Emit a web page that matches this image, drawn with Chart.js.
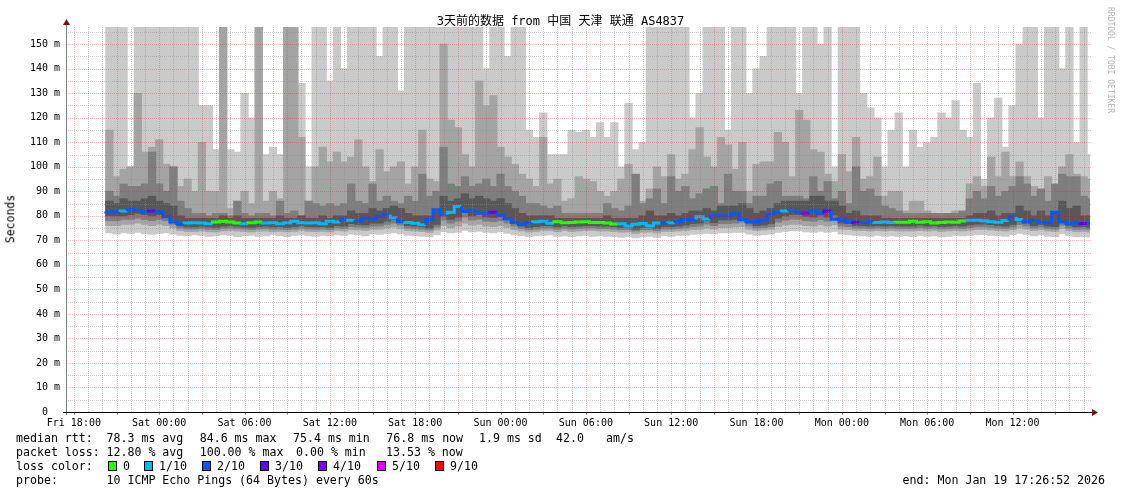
<!DOCTYPE html>
<html>
<head>
<meta charset="utf-8">
<title>3天前的数据 from 中国 天津 联通 AS4837</title>
<script src="https://cdn.jsdelivr.net/npm/chart.js@4.4.1/dist/chart.umd.min.js"></script>
<style>
  html, body { margin: 0; padding: 0; background: #fff; }
  #page { position: relative; width: 1121px; height: 494px; overflow: hidden;
          font-family: "DejaVu Sans Mono", monospace; color: #000; }
  #page canvas { position: absolute; left: 0; top: 0; }
  .t { position: absolute; white-space: pre; line-height: 14px; font-size: 11.6px; }
  .box { position: absolute; top: 461px; width: 7px; height: 8px; border: 1px solid #000; }
  #title { left: 0; top: 14px; width: 1121px; text-align: center; font-size: 12px;
           font-family: "DejaVu Sans Mono", "Noto Sans CJK SC", monospace; }
  #ylab { left: 11px; top: 219px; font-size: 11.5px; line-height: 1;
          transform: translate(-50%, -50%) rotate(-90deg); }
  #brand { left: 1110px; top: 60px; font-size: 8px; line-height: 1; color: #b4b4b4;
           transform: translate(-50%, -50%) rotate(90deg); }
</style>
</head>
<body>
<div id="page">
  <canvas id="smoke" width="1121" height="494"></canvas>
  <div class="t" id="title">3天前的数据 from 中国 天津 联通 AS4837</div>
  <div class="t" id="ylab">Seconds</div>
  <div class="t" id="brand">RRDTOOL / TOBI OETIKER</div>
  <div class="t" style="top:473px; right:16px">end: Mon Jan 19 17:26:52 2026</div>
</div>

<script>
// time axis in hours, Fri 00:00 = 0; graph ends Mon 17:26:52
const xMax = 72 + 17 + 26 / 60 + 52 / 3600;
const xMin = xMax - 72;
const firstBin = 20.25;   // first consolidated column
const binHours = 0.5;

const xLabelHours = [18, 24, 30, 36, 42, 48, 54, 60, 66, 72, 78, 84];
const xLabels = ['Fri 18:00', 'Sat 00:00', 'Sat 06:00', 'Sat 12:00', 'Sat 18:00', 'Sun 00:00',
                 'Sun 06:00', 'Sun 12:00', 'Sun 18:00', 'Mon 00:00', 'Mon 06:00', 'Mon 12:00'];
const yTicks = [0, 10, 20, 30, 40, 50, 60, 70, 80, 90, 100, 110, 120, 130, 140, 150];
const yTickLabels = ['0  ', '10 m', '20 m', '30 m', '40 m', '50 m', '60 m', '70 m', '80 m',
                     '90 m', '100 m', '110 m', '120 m', '130 m', '140 m', '150 m'];

const lossNames = ['0', '1/10', '2/10', '3/10', '4/10', '5/10', '9/10'];
const lossColors = ['#26ff00', '#00b8ff', '#0059ff', '#5e00ff', '#7e00ff', '#dd00ff', '#ff0000'];

// legend lines: [text, x] per item
const rttLegend = [['median rtt:', 16], ['78.3 ms avg', 106.5], ['84.6 ms max', 199.7], ['75.4 ms min', 293],
                   ['76.8 ms now', 386.3], ['1.9 ms sd', 479], ['42.0', 556], ['am/s', 606]];
const lossLegend = [['packet loss:', 16], ['12.80 % avg', 106.5], ['100.00 % max', 199.7],
                    ['0.00 % min', 296], ['13.53 % now', 386]];
const probeLegend = [['probe:', 16], ['10 ICMP Echo Pings (64 Bytes) every 60s', 106.5]];

// smoke, ms (one value per column)
const pingMax = [
  157,157,157,100,157,157,157,157,157,157, 157,157,157,125,125,107,157,107,106,130,
  120,157,105,108,105,157,157,134,100,157, 157,135,157,140,157,157,157,157,145,157,
  157,131,157,157,157,157,157,157,157,157, 157,157,157,140,157,157,145,157,157,115,
  112,122,105,105,105,115,114,115,112,118, 112,118,100,126,107,110,157,157,157,157,
  157,157,120,130,157,157,157,115,157,157, 130,140,145,157,157,157,157,130,157,157,
  150,157,100,157,157,157,130,124,120,100, 115,122,100,115,108,110,112,122,120,127,
  115,112,134,95,120,128,108,125,150,157, 157,120,157,157,140,157,110,157,105];
const ping9 = [
  115,96,99,100,130,106,108,111,101,100, 92,95,90,110,90,90,157,83,86,90,
  85,157,86,90,87,157,157,112,86,100, 108,102,106,102,104,111,100,94,107,98,
  100,102,93,100,115,95,94,150,119,116, 105,100,135,125,129,108,104,101,97,95,
  92,112,93,95,86,87,96,95,94,90, 88,90,95,101,97,86,91,100,96,105,
  95,97,107,116,104,100,112,109,99,110, 90,101,102,102,114,110,96,123,119,107,
  106,97,94,105,98,112,95,96,104,88, 90,90,82,86,86,82,81,81,81,82,
  81,93,96,92,104,96,106,96,102,96, 92,88,96,92,100,105,97,96,95];
const ping8 = [
  90,88,93,92,92,93,106,93,90,100, 86,83,81,81,80,81,81,80,86,81,
  80,81,81,80,86,81,82,80,86,85, 84,85,84,85,93,86,85,93,86,88,
  86,85,88,86,97,88,90,108,93,92, 96,92,93,95,92,97,92,90,88,85,
  85,84,83,84,81,81,81,81,81,81, 85,83,82,84,97,85,87,91,85,96,
  90,92,87,89,91,92,85,97,90,90, 85,88,88,93,94,88,88,88,87,96,
  90,94,87,90,85,100,90,91,88,84, 83,82,81,81,81,81,81,81,81,81,
  82,87,90,87,92,88,90,92,96,93, 88,91,86,93,97,96,96,88,87];
const ping7 = [
  86,85,87,86,86,87,88,86,85,84, 80,79,79,79,79,79,80,79,80,79,
  79,79,79,79,80,79,79,80,79,79, 80,79,80,80,82,81,81,83,82,83,
  84,83,81,80,80,80,82,88,86,87, 89,87,88,87,86,87,85,83,81,80,
  80,80,80,79,79,79,79,79,79,79, 80,79,79,79,79,80,82,80,80,81,
  80,81,82,82,83,82,84,84,84,85, 83,81,82,83,85,86,86,86,86,88,
  88,86,86,84,81,82,80,80,80,79, 79,79,79,79,79,79,79,79,79,79,
  79,80,81,81,82,80,81,81,84,82, 80,82,80,81,86,83,84,80,80];
const medianRtt = [
  81.8,81.6,81.6,82.0,82.5,82.2,81.6,82.0,81.6,79.6, 77.5,76.8,77.1,77.2,77.1,76.8,77.5,77.8,77.5,77.1,
  76.8,77.2,77.5,77.1,77.2,76.8,77.2,77.8,77.2,77.1, 77.2,76.8,77.8,77.5,78.8,78.2,78.0,79.0,78.8,79.8,
  80.5,79.2,77.6,77.3,77.0,76.4,78.6,82.5,80.4,81.5, 83.8,81.8,82.2,81.2,81.0,81.5,80.2,78.8,77.3,76.6,
  77.2,77.6,77.8,77.0,77.6,77.2,77.3,77.5,77.6,77.3, 77.3,77.1,76.7,76.8,75.8,76.6,76.9,76.0,77.1,77.1,
  77.2,77.7,78.4,78.5,79.6,78.7,80.0,79.9,80.0,80.8, 78.5,77.6,77.7,78.3,80.6,81.6,82.0,82.2,81.4,81.2,
  82.0,81.0,82.0,78.6,78.4,77.6,77.4,77.3,77.6,77.3, 77.5,77.3,77.4,77.4,77.8,77.4,77.6,77.1,77.3,77.5,
  77.4,77.9,78.2,78.2,78.0,77.6,77.4,78.1,79.6,78.5, 77.5,78.1,77.4,77.2,81.5,77.5,77.0,77.2,76.9];
const ping4 = [
  80,80,80,80.5,81,80.5,80,80.5,80,78, 76,75.5,75.5,75.8,75.5,75.3,75.8,76,75.8,75.5,
  75.3,75.6,75.8,75.5,75.6,75.3,75.6,76,75.6,75.5, 75.6,75.3,76,75.8,76.8,76.5,76.3,77,77,77.8,
  78.5,77.5,76,75.8,75.5,75,76.5,80,78.5,79.5, 81.5,80,80.5,79.5,79.3,79.8,78.5,77,75.8,75.2,
  75.6,76,76,75.5,76,75.6,75.8,76,76,75.8, 75.8,75.6,75.2,75.3,74.5,75.2,75.4,74.8,75.6,75.6,
  75.8,76.2,76.8,77,78,77.2,78.3,78.3,78.5,79, 77,76,76.2,76.8,79,80,80.5,80.5,79.8,79.5,
  80.3,79.5,80.3,77,76.8,76,76,75.8,76,75.8, 76,75.8,75.8,75.8,76.2,75.8,76,75.6,75.8,76,
  75.8,76.3,76.6,76.6,76.4,76,75.8,76.5,77.8,77, 76,76.5,75.8,75.6,77.5,76,75.5,75.6,75.3];
const ping3 = [
  78,78,78.5,78.5,79,78.5,78,78.5,78,76.5, 75,74.6,74.6,74.8,74.5,74.4,74.8,75,74.8,74.6,
  74.4,74.7,74.8,74.5,74.6,74.4,74.6,75,74.6,74.5, 74.6,74.4,75,74.8,75.6,75.4,75.2,75.8,75.8,76.5,
  77,76.2,75,74.8,74.5,74.2,75.4,78.2,77,77.8, 79.5,78.3,78.6,77.8,77.6,78,77,75.8,74.8,74.3,
  74.6,75,75,74.5,75,74.6,74.8,75,75,74.8, 74.8,74.6,74.3,74.4,73.8,74.3,74.4,74,74.6,74.6,
  74.8,75.1,75.6,75.8,76.6,76,76.8,76.8,77,77.4, 75.8,75,75.2,75.6,77.4,78.2,78.6,78.6,78,77.8,
  78.4,77.8,78.4,75.8,75.6,75,75,74.8,75,74.8, 75,74.8,74.8,74.8,75.1,74.8,75,74.6,74.8,75,
  74.8,75.2,75.5,75.5,75.3,75,74.8,75.4,76.4,75.8, 75,75.4,74.8,74.6,76.2,75,74.5,74.6,74.4];
const ping2 = [
  76,76,76.5,76.5,77,76.5,76,76.5,76,75, 74,73.6,73.6,73.8,73.5,73.4,73.8,74,73.8,73.6,
  73.4,73.7,73.8,73.5,73.6,73.4,73.6,74,73.6,73.5, 73.6,73.4,74,73.8,74.4,74.2,74,74.5,74.5,75,
  75.4,74.8,74,73.8,73.5,73.2,74.2,76,75.2,75.8, 77,76.2,76.5,75.8,75.6,76,75.2,74.4,73.8,73.3,
  73.6,74,74,73.5,74,73.6,73.8,74,74,73.8, 73.8,73.6,73.3,73.4,72.8,73.3,73.4,73,73.6,73.6,
  73.8,74,74.4,74.5,75,74.6,75.2,75.2,75.4,75.6, 74.5,74,74.2,74.5,75.6,76.2,76.5,76.5,76,75.8,
  76.3,75.8,76.3,74.5,74.4,74,74,73.8,74,73.8, 74,73.8,73.8,73.8,74,73.8,74,73.6,73.8,74,
  73.8,74.1,74.4,74.4,74.2,74,73.8,74.3,75,74.6, 74,74.3,73.8,73.6,74.8,74,73.5,73.6,73.4];
const pingMin = [
  73,72.5,73,72.8,73.2,72.6,72.4,72.8,73,72.5, 72,71.8,72.2,72,71.6,71.8,72.2,72,71.5,71.8,
  72,71.6,71.8,72.2,71.8,71.5,72,72.2,71.8,71.6, 72,71.8,72.2,72,72.5,72.2,71.8,72.6,72.4,72.8,
  73,72.6,72,71.8,71.6,71.5,72.2,73.5,73,73.2, 74,73.4,73.6,73.2,73,73.4,72.8,72.2,71.8,71.5,
  71.8,72,72.2,71.6,71.8,71.5,71.8,72,71.6,71.8, 71.6,71.5,71.2,71.5,71,71.4,71.6,71.2,71.8,71.6,
  72,72,72.4,72.5,72.8,72.6,73,73,73.2,73.2, 72.5,72,72.2,72.5,73.2,73.6,73.8,73.8,73.4,73.2,
  73.6,73.2,73.6,72.5,72.2,72,71.8,71.6,72,71.6, 71.8,71.6,71.8,71.5,72,71.6,71.8,71.4,71.6,72,
  71.8,72,72.2,72.3,72,71.8,71.6,72.2,72.8,72.4, 71.8,72.2,71.6,71.5,72.6,71.8,71.4,71.5,71.3];
// loss per column, index into lossColors
const lossLevel = [
  2,2,1,2,2,2,3,2,2,2, 2,1,1,1,1,0,0,0,0,1, 0,0,1,1,1,1,1,1,1,1,
  1,1,1,2,1,2,2,2,2,2, 1,2,1,1,1,2,2,2,1,1, 2,2,2,2,3,2,2,2,2,2,
  1,1,1,0,0,0,0,0,0,0, 0,0,1,1,1,1,1,1,2,1, 2,2,2,1,1,2,2,2,2,2,
  2,2,2,2,2,1,2,2,4,2, 2,3,2,2,2,3,2,2,1,1, 1,0,0,0,0,0,0,0,0,0,
  0,1,1,1,1,1,1,2,1,2, 2,2,2,2,2,2,2,3,2];

// legend text
const page = document.getElementById('page');
function addText(text, x, top) {
  const d = document.createElement('div');
  d.className = 't';
  d.style.left = x + 'px';
  d.style.top = top + 'px';
  d.textContent = text;
  page.appendChild(d);
}
rttLegend.forEach(([s, x]) => addText(s, x, 431));
lossLegend.forEach(([s, x]) => addText(s, x, 445));
addText('loss color:', 16, 459);
probeLegend.forEach(([s, x]) => addText(s, x, 473));
const lossBoxX = [108, 144, 202, 260, 318, 377, 435];
lossNames.forEach((name, i) => {
  const b = document.createElement('div');
  b.className = 'box';
  b.style.left = lossBoxX[i] + 'px';
  b.style.background = lossColors[i];
  page.appendChild(b);
  addText(name, lossBoxX[i] + 15, 459);
});

const bins = medianRtt.map((_, i) => firstBin + i * binHours);
function band(lo, hi) {
  return bins.map((t, i) => ({ x: t + binHours / 2, y: [lo[i], hi[i]] }));
}
const medianPts = bins.map((t, i) => ({ x: t, y: medianRtt[i] }));
medianPts.push({ x: xMax, y: medianRtt[medianRtt.length - 1] });

const gridHours = [];
for (let h = Math.ceil(xMin); h < xMax; h++) gridHours.push(h);

const barBase = { type: 'bar', grouped: false, barThickness: 7.6, borderWidth: 0, borderSkipped: false };

// rrdtool style grid on top of the smoke, plus axes and arrows
const majorGrid = 'rgba(255,0,0,0.27)';
const minorGrid = 'rgba(140,140,140,0.45)';
const rrdGrid = {
  id: 'rrdGrid',
  afterDatasetsDraw(chart) {
    const { ctx, chartArea: a, scales: { x, y } } = chart;
    ctx.save();
    ctx.lineWidth = 1;
    ctx.setLineDash([1, 1]);
    gridHours.forEach(h => {
      const px = Math.round(x.getPixelForValue(h)) + 0.5;
      ctx.strokeStyle = h % 3 === 0 ? majorGrid : minorGrid;
      ctx.beginPath(); ctx.moveTo(px, a.top); ctx.lineTo(px, a.bottom); ctx.stroke();
    });
    for (let v = 5; v < y.max; v += 5) {
      const py = Math.round(y.getPixelForValue(v)) + 0.5;
      ctx.strokeStyle = v % 10 === 0 ? majorGrid : minorGrid;
      ctx.beginPath(); ctx.moveTo(a.left, py); ctx.lineTo(a.right + 2, py); ctx.stroke();
    }
    ctx.setLineDash([]);
    // tick marks
    ctx.strokeStyle = 'rgba(200,60,60,0.6)';
    gridHours.filter(h => h % 3 === 0).forEach(h => {
      const px = Math.round(x.getPixelForValue(h)) + 0.5;
      ctx.beginPath(); ctx.moveTo(px, a.bottom); ctx.lineTo(px, a.bottom + 3); ctx.stroke();
    });
    // axes
    ctx.strokeStyle = '#808080';
    ctx.beginPath(); ctx.moveTo(a.left + 0.5, a.top - 3); ctx.lineTo(a.left + 0.5, a.bottom + 3); ctx.stroke();
    ctx.strokeStyle = '#000';
    ctx.beginPath(); ctx.moveTo(a.left - 3, a.bottom + 0.5); ctx.lineTo(a.right + 3, a.bottom + 0.5); ctx.stroke();
    ctx.fillStyle = '#801010';
    ctx.beginPath();
    ctx.moveTo(a.left + 0.5, a.top - 8); ctx.lineTo(a.left - 3, a.top - 2); ctx.lineTo(a.left + 4, a.top - 2);
    ctx.closePath(); ctx.fill();
    ctx.beginPath();
    ctx.moveTo(a.right + 8, a.bottom + 0.5); ctx.lineTo(a.right + 2, a.bottom - 3); ctx.lineTo(a.right + 2, a.bottom + 4);
    ctx.closePath(); ctx.fill();
    ctx.restore();
  }
};

const tickFont = { family: 'DejaVu Sans Mono', size: 10 };

new Chart(document.getElementById('smoke'), {
  type: 'bar',
  data: {
    datasets: [
      { type: 'line', label: 'median rtt', data: medianPts, stepped: 'after', borderWidth: 3,
        pointRadius: 0, borderColor: lossColors[1], borderCapStyle: 'butt',
        segment: { borderColor: c => lossColors[lossLevel[Math.min(c.p0DataIndex, lossLevel.length - 1)]] } },
      { ...barBase, label: 'p4-p7', data: band(ping4, ping7), backgroundColor: '#585858' },
      { ...barBase, label: 'p3-p8', data: band(ping3, ping8), backgroundColor: '#7e7e7e' },
      { ...barBase, label: 'p2-p9', data: band(ping2, ping9), backgroundColor: '#a4a4a4' },
      { ...barBase, label: 'min-max', data: band(pingMin, pingMax), backgroundColor: '#cacaca' }
    ]
  },
  options: {
    responsive: false,
    animation: false,
    events: [],
    layout: { padding: { top: 27, right: 31, bottom: 0, left: 0 } },
    plugins: { legend: { display: false }, tooltip: { enabled: false }, title: { display: false } },
    scales: {
      x: {
        type: 'linear', min: xMin, max: xMax, offset: false,
        grid: { display: false, drawTicks: false }, border: { display: false },
        afterBuildTicks: s => { s.ticks = gridHours.map(v => ({ value: v })); },
        afterFit: s => { s.height = 82; },
        ticks: {
          autoSkip: false, maxRotation: 0, padding: 5, color: '#000', font: tickFont,
          callback: v => { const k = xLabelHours.indexOf(v); return k < 0 ? '' : xLabels[k]; }
        }
      },
      y: {
        min: 0, max: 157,
        grid: { display: false, drawTicks: false }, border: { display: false },
        afterBuildTicks: s => { s.ticks = yTicks.map(v => ({ value: v })); },
        afterFit: s => { s.width = 66; },
        ticks: {
          padding: 6, color: '#000', font: tickFont,
          callback: v => yTickLabels[yTicks.indexOf(v)]
        }
      }
    }
  },
  plugins: [rrdGrid]
});
</script>
</body>
</html>
